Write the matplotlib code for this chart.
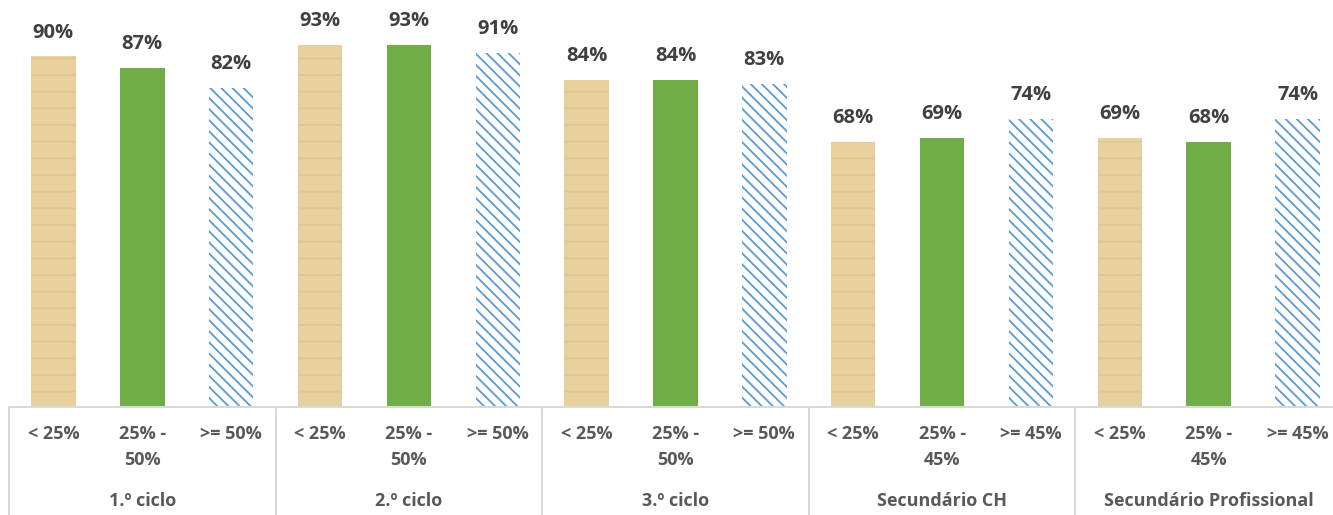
import matplotlib

matplotlib.use("Agg")
import matplotlib.pyplot as plt
import matplotlib.transforms as mtransforms
import numpy as np


GROUPS = ["1.º ciclo", "2.º ciclo", "3.º ciclo", "Secundário CH",
          "Secundário Profissional"]
CATEGORIES = [
    ["< 25%", "25% -\n50%", ">= 50%"],
    ["< 25%", "25% -\n50%", ">= 50%"],
    ["< 25%", "25% -\n50%", ">= 50%"],
    ["< 25%", "25% -\n45%", ">= 45%"],
    ["< 25%", "25% -\n45%", ">= 45%"],
]
LOW = [0.90, 0.93, 0.84, 0.68, 0.69]
MID = [0.87, 0.93, 0.84, 0.69, 0.68]
HIGH = [0.82, 0.91, 0.83, 0.74, 0.74]

plt.rcParams["font.family"] = ["Open Sans", "DejaVu Sans"]
plt.rcParams["hatch.linewidth"] = 1.3

fig = plt.figure(figsize=(13.33, 5.15), dpi=100)
# category axis runs a little past the right edge of the picture
ax = fig.add_axes([9 / 1333, 108 / 515, 1333 / 1333, 407 / 515])

n_groups = len(GROUPS)
values = np.array([LOW, MID, HIGH]).T.flatten()
x = np.arange(values.size)
styles = [
    dict(facecolor="#E9D19D", edgecolor="#E0C790", hatch="-", linewidth=0),
    dict(facecolor="#70AD47", edgecolor="#70AD47", linewidth=0),
    dict(facecolor="white", edgecolor="#5B9BD5", hatch="\\\\\\", linewidth=0),
]
for k in range(3):
    idx = x[k::3]
    ax.bar(idx, values[k::3], width=0.5, **styles[k])

for xi, v in zip(x, values):
    ax.annotate(f"{v:.0%}", (xi, v), xytext=(0, 10), textcoords="offset points",
                ha="center", va="bottom", fontsize=14.5, fontweight="bold",
                color="#404040")

ax.set_xlim(-0.5, values.size - 0.5)
ax.set_ylim(0, 1.045)
ax.set_xticks([])
ax.set_yticks([])
for side in ["left", "right", "top"]:
    ax.spines[side].set_visible(False)
ax.spines["bottom"].set_color("#D9D9D9")
ax.spines["bottom"].set_linewidth(1.5)

trans = mtransforms.blended_transform_factory(ax.transData, fig.transFigure)
labels = [lab for group in CATEGORIES for lab in group]
for xi, lab in zip(x, labels):
    ax.text(xi, 1 - 425 / 515, lab, transform=trans, ha="center", va="top",
            fontsize=13, fontweight="bold", color="#595959", linespacing=1.6)
for g, name in enumerate(GROUPS):
    ax.text(3 * g + 1, 1 - 501 / 515, name, transform=trans, ha="center",
            va="center", fontsize=13, fontweight="bold", color="#595959")
for g in range(n_groups + 1):
    ax.plot([3 * g - 0.5] * 2, [0, 1 - 407 / 515], transform=trans,
            color="#D9D9D9", linewidth=1.5, clip_on=False)

fig.savefig("out.png", dpi=100)
